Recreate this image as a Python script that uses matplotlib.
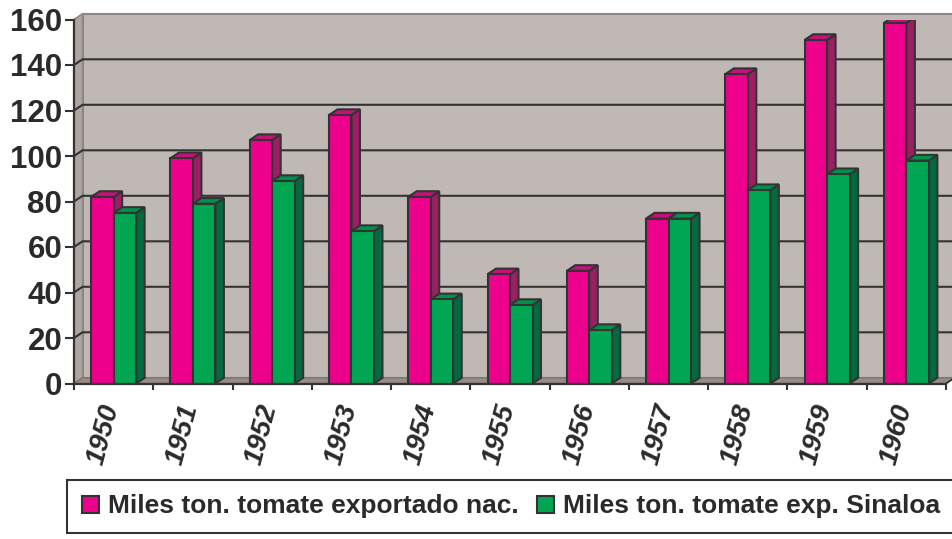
import matplotlib.pyplot as plt
import matplotlib.transforms as mtransforms
from matplotlib.patches import Polygon, Patch

# Miles de toneladas de tomate exportado, 1950-1960
years = ['1950', '1951', '1952', '1953', '1954', '1955',
         '1956', '1957', '1958', '1959', '1960']
nacional = [82, 99, 107, 118, 82, 48, 49.5, 72.5, 136, 151, 158.5]
sinaloa = [75, 79, 89, 67, 37, 34.5, 23.5, 72.5, 85, 92, 98]
series_labels = ['Miles ton. tomate exportado nac.',
                 'Miles ton. tomate exp. Sinaloa']
yticks = [0, 20, 40, 60, 80, 100, 120, 140, 160]

# front, side and top shades for each series
pink = ('#ec008c', '#9c1f63', '#c4127a')
green = ('#00a651', '#006b3f', '#00914a')
edge = '#333333'
txt = '#2a2a2a'
font = 'Liberation Sans'

W, H = 952, 539
fig = plt.figure(figsize=(W / 100, H / 100), dpi=100)
ax = fig.add_axes([74 / W, 1 - 383.5 / H, 872 / W, 364 / H])
n = len(years)
ymax = 160
ax.set_xlim(0, n)
ax.set_ylim(0, ymax)

# depth of the 3d box, converted from pixels to data units
DX = 8.5 / (872 / n)
DY = 5.7 * ymax / 364

# back wall, side wall and floor
ax.add_patch(Polygon([(DX, DY), (n + DX, DY), (n + DX, ymax + DY), (DX, ymax + DY)],
                     closed=True, fc='#c0b8b5', ec='#8f8581', lw=1.5, zorder=0, clip_on=False))
ax.add_patch(Polygon([(0, 0), (DX, DY), (DX, ymax + DY), (0, ymax)],
                     closed=True, fc='#aea6a2', ec='#8f8581', lw=1.2, zorder=0, clip_on=False))
ax.add_patch(Polygon([(0, 0), (n, 0), (n + DX, DY), (DX, DY)],
                     closed=True, fc='#958b87', ec='#7d7470', lw=1.0, zorder=0, clip_on=False))

# gridlines on the walls
for v in yticks[1:-1]:
    ax.plot([0, DX, n + DX], [v, v + DY, v + DY], color=edge, lw=1.5,
            zorder=1, clip_on=False, solid_capstyle='butt')
ax.plot([n, n + DX], [0, DY], color=edge, lw=1.3, zorder=1, clip_on=False)

# 3d columns: front faces as bars, side and top as polygons
w = 22.5 / (872 / n)
x0 = [i + (1 - 2 * w) / 2 for i in range(n)]
for k, (vals, cols) in enumerate([(nacional, pink), (sinaloa, green)]):
    xs = [x + k * w for x in x0]
    ax.bar(xs, vals, width=w, align='edge', color=cols[0], edgecolor=edge,
           linewidth=1.5, zorder=3 + k)
    for x, h in zip(xs, vals):
        ax.add_patch(Polygon([(x + w, 0), (x + w + DX, DY), (x + w + DX, h + DY), (x + w, h)],
                             closed=True, fc=cols[1], ec=edge, lw=1.5, zorder=2 + k))
        ax.add_patch(Polygon([(x, h), (x + w, h), (x + w + DX, h + DY), (x + DX, h + DY)],
                             closed=True, fc=cols[2], ec=edge, lw=1.5, zorder=2 + k))

# axes
for s in ['top', 'right']:
    ax.spines[s].set_visible(False)
for s in ['left', 'bottom']:
    ax.spines[s].set_color(edge)
    ax.spines[s].set_linewidth(1.6)
    ax.spines[s].set_zorder(6)
ax.set_yticks(yticks)
ax.set_yticklabels([str(v) for v in yticks], fontsize=22.5, fontweight='bold',
                   family=font, color=txt)
ax.tick_params(axis='y', length=6.5, width=1.5, color=edge, pad=2)
ax.set_xticks(range(n + 1))
ax.set_xticklabels([])
ax.tick_params(axis='x', length=4, width=1.5, color=edge)

off = mtransforms.ScaledTranslation(-0.02, -0.215, fig.dpi_scale_trans)
for i, yr in enumerate(years):
    ax.text(i + 0.5, 0, yr, transform=ax.get_xaxis_transform() + off,
            rotation=75, rotation_mode='anchor', ha='right', va='center',
            fontsize=20, fontweight='bold', fontstyle='italic', family=font, color=txt)

handles = [Patch(fc=pink[0], ec=edge, lw=1.5), Patch(fc=green[0], ec=edge, lw=1.5)]
leg = fig.legend(handles, series_labels, loc='center',
                 bbox_to_anchor=(511 / W, 1 - 506.5 / H), ncol=2, frameon=True,
                 fancybox=False, edgecolor=edge, framealpha=1,
                 prop=dict(family=font, weight='bold', size=19),
                 handlelength=0.64, handleheight=0.64, handletextpad=0.34,
                 columnspacing=0.72, borderpad=0.55)
leg.get_frame().set_linewidth(1.5)
for t in leg.get_texts():
    t.set_color(txt)

fig.savefig('out.png', dpi=100)
